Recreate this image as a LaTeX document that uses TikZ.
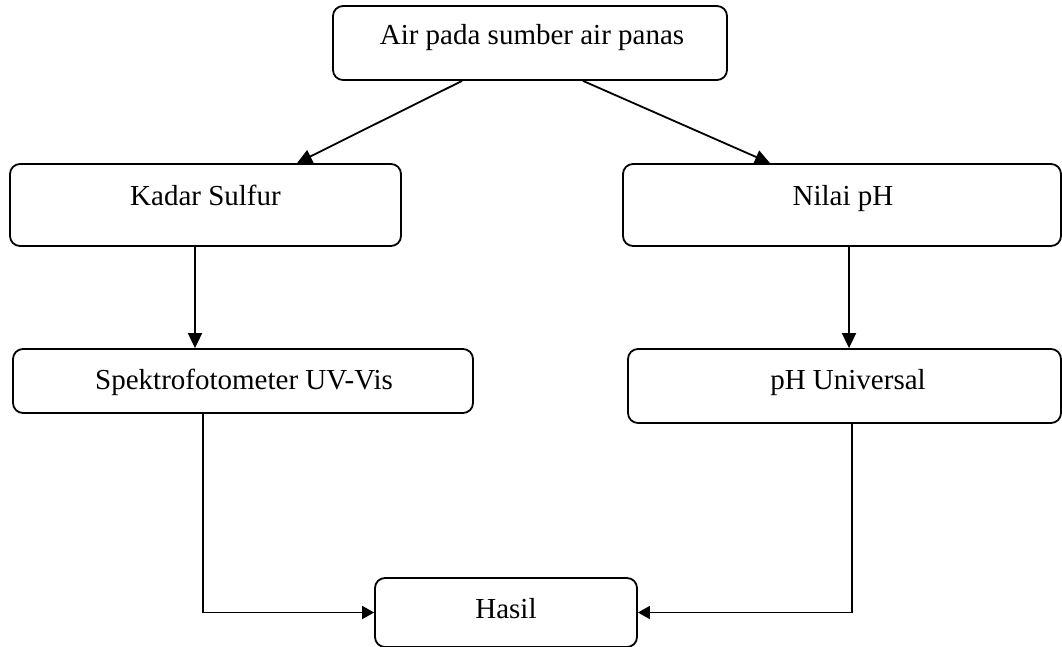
\documentclass[tikz,border=0pt]{standalone}
\usepackage{fontspec}
\setmainfont{Liberation Serif}
\usetikzlibrary{arrows.meta}
\begin{document}
\begin{tikzpicture}[x=1pt,y=-1pt,
  box/.style={draw, line width=1.8pt, rounded corners=10pt, inner sep=0pt, fill=white},
  lbl/.style={anchor=base, inner sep=0pt, font=\fontsize{29}{34}\selectfont},
  arr/.style={line width=1.8pt, -{Triangle[length=15pt,width=14pt]}},
  elbow/.style={line width=1.8pt, -{Triangle[length=12pt,width=13pt]}}]
\useasboundingbox (0,0) rectangle (1062,647);
\fill[white] (0,0) rectangle (1062,647);
% boxes
\node[box, minimum width=394pt, minimum height=74pt] (top) at (530,43) {};
\node[box, minimum width=391pt, minimum height=82pt] (kadar) at (205.5,205) {};
\node[box, minimum width=438pt, minimum height=82pt] (nilai) at (842,205) {};
\node[box, minimum width=460pt, minimum height=64pt] (spek) at (243,381) {};
\node[box, minimum width=433pt, minimum height=74pt] (phu) at (844.5,386) {};
\node[box, minimum width=262pt, minimum height=69pt] (hasil) at (506,612.5) {};
% labels
\node[lbl] (ttop) at (532,45) {Air pada sumber air panas};
\node[lbl] (tkadar) at (205.5,205) {Kadar Sulfur};
\node[lbl] (tnilai) at (843,205) {Nilai pH};
\node[lbl] (tspek) at (244,389) {Spektrofotometer UV-Vis};
\node[lbl] (tphu) at (848,389) {pH Universal};
\node[lbl] (thasil) at (506,618) {Hasil};
% connectors
\draw[arr] ([xshift=-68pt]top.south) -- ([xshift=91.5pt]kadar.north);
\draw[arr] ([xshift=53pt]top.south) -- ([xshift=-72pt]nilai.north);
\draw[arr] ([xshift=-10.5pt]kadar.south) -- ([xshift=-10.5pt]kadar.south |- spek.north);
\draw[arr] ([xshift=7pt]nilai.south) -- ([xshift=7pt]nilai.south |- phu.north);
\draw[elbow] ([xshift=-40pt]spek.south) |- (hasil.west);
\draw[elbow] ([xshift=7.5pt]phu.south) |- (hasil.east);
\end{tikzpicture}
\end{document}
